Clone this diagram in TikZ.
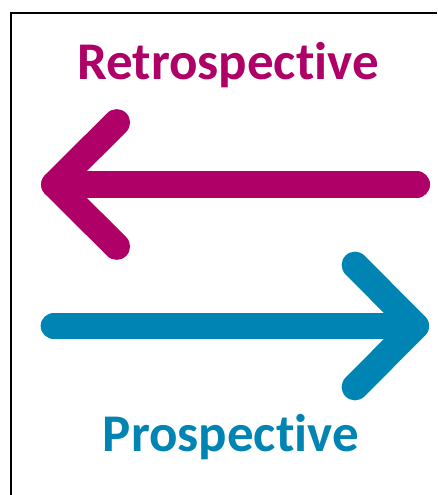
\documentclass[tikz,border=0pt]{standalone}
\usepackage{fontspec}
\setmainfont{Carlito}[Ligatures=NoCommon]
\definecolor{retro}{HTML}{AE0066}
\definecolor{prosp}{HTML}{0084B4}
\begin{document}
\begin{tikzpicture}[x=1pt,y=-1pt,
  chevron/.style={line width=26.7pt, line cap=round, line join=round},
  label/.style={font=\bfseries\fontsize{53}{60}\selectfont, anchor=base, inner sep=0pt}]
\useasboundingbox (0,0) rectangle (437,495);
% frame (open on the right and bottom)
\draw[line width=1.3pt] (437,13) -- (11,13) -- (11,495);

% backward arrow
\coordinate (rS) at (416.7,184.5);
\coordinate (rT) at (54.5,184.5);
\coordinate (rU) at (116.7,122.5);
\coordinate (rD) at (116.7,246.5);
\draw[chevron, retro] (rS) -- (rT);
\draw[chevron, retro] (rU) -- (rT) -- (rD);

% forward arrow
\coordinate (pS) at (54,326);
\coordinate (pT) at (415.7,326);
\coordinate (pU) at (355,265);
\coordinate (pD) at (355,387);
\draw[chevron, prosp] (pS) -- (pT);
\draw[chevron, prosp] (pU) -- (pT) -- (pD);

\node[label, text=retro] (retrolabel) at (228,79.3) {Retrospective};
\node[label, text=prosp] (prosplabel) at (230.8,451.7) {Prospective};
\end{tikzpicture}
\end{document}
